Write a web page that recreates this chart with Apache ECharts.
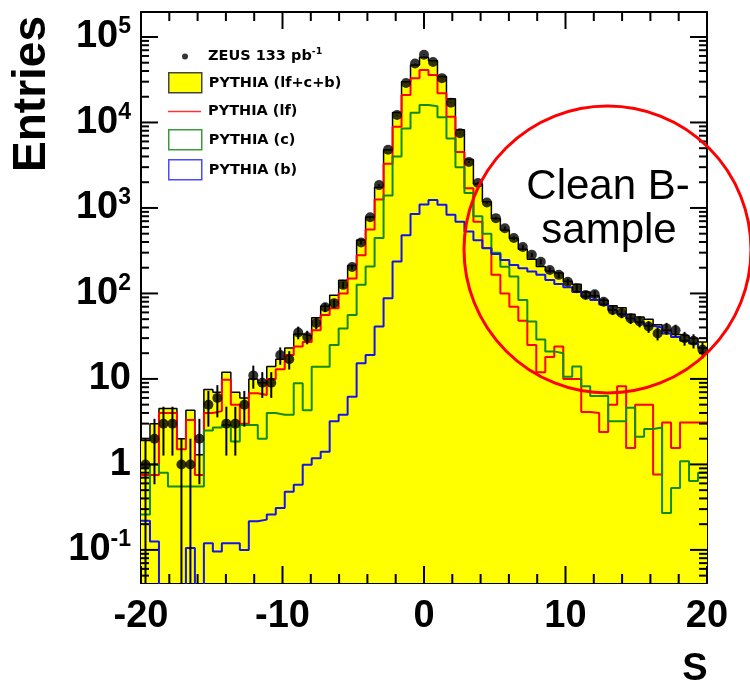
<!DOCTYPE html>
<html>
<head>
<meta charset="utf-8">
<script src="https://cdn.jsdelivr.net/npm/echarts@6/dist/echarts.min.js"></script>
<style>
  html, body { margin: 0; padding: 0; background: #ffffff; }
  #chart { width: 750px; height: 686px; }
</style>
</head>
<body>
<div id="chart"></div>
<script>
// Histogram binning of the significance S
const X_MIN = -20;
const X_MAX = 20;
const N_BINS = 63;
const Y_MIN = 0.041;
const Y_MAX = 1.96e5;

// Frame tick positions
const X_MAJOR_TICKS = [-20, -10, 0, 10, 20];
const X_MINOR_TICKS = [-18, -16, -14, -12, -8, -6, -4, -2, 2, 4, 6, 8, 12, 14, 16, 18];
const Y_DECADES = [0.01, 0.1, 1, 10, 100, 1000, 10000, 100000];
const Y_MINOR_STEPS = [2, 3, 4, 5, 6, 7, 8, 9];

// Data: entries per bin (63 bins, S from -20 to 20)
const ZEUS_DATA = [
  1, 2, 3, 3, 1, 1, 2, 5, 6, 3,
  3, 5, 11, 9, 9, 19, 17, 35, 31, 45,
  69, 77, 126, 204, 395, 780, 1850, 4800, 12200, 29000,
  49000, 62000, 51000, 33000, 17000, 7500, 3450, 1960, 1160, 760,
  580, 445, 350, 283, 235, 188, 165, 137, 115, 96,
  98, 80, 64, 59, 51, 47, 41, 34, 39, 37,
  30, 28, 22
];

// PYTHIA total (lf+c+b)
const MC_TOTAL = [
  1.9, 3.0, 4.5, 4.5, 2.0, 4.3, 1.3, 7.5, 7, 12,
  7, 6, 10, 9, 14, 17, 23, 33.5, 32, 52,
  71, 95, 143, 212, 421, 785, 1746, 4800, 13100, 30000,
  46900, 58100, 52700, 34600, 19000, 8200, 3700, 1910, 1180, 755,
  551, 443, 329, 252, 206, 183, 173, 139, 128, 104,
  94, 83, 72, 68, 57, 53, 50, 43, 37, 33,
  32, 30, 27
];

// PYTHIA light flavour
const MC_LF = [
  0.75, 0.75, 4.0, 4.0, 1.5, 3.3, 0.75, 4.0, 4.2, 9.8,
  5.0, 3.0, 6.8, 6.5, 10, 13, 19, 24, 27, 37,
  56, 67, 100, 150, 280, 560, 1260, 3300, 8900, 21000,
  33000, 41000, 36000, 22000, 11700, 4500, 1700, 690, 340, 165,
  100, 70, 48, 25, 12, 18, 24, 10, 10, 4.1,
  4.0, 2.4, 5.0, 8.2, 1.56, 5.0, 5.0, 0.76, 3.1, 1.56,
  3.1, 3.1, 3.1
];

// PYTHIA charm
const MC_C = [
  0.26, 1.0, 0.8, 0.55, 0.55, 0.55, 0.55, 2.5, 2.7, 2.9,
  1.85, 2.9, 2.9, 2.0, 4.0, 3.8, 3.8, 8.9, 4.3, 13.9,
  13.9, 25, 39, 56, 126, 206, 445, 1400, 4000, 8500,
  13000, 16000, 15500, 11500, 6500, 3000, 1500, 800, 500, 300,
  205, 158, 84, 47, 29, 21, 20, 10.6, 14, 8.2,
  6.3, 6.3, 3.2, 3.2, 4.6, 2.1, 2.6, 2.7, 0.27, 0.53,
  1.09, 0.64, 0.8
];

// PYTHIA beauty (0 = empty bin)
const MC_B = [
  0.22, 0.125, 0, 0, 0, 0.105, 0, 0.12, 0.096, 0.12,
  0.12, 0.10, 0.216, 0.226, 0.26, 0.31, 0.48, 0.58, 0.99, 1.18,
  1.41, 3.2, 3.8, 6.2, 15.3, 19, 41, 88, 236, 480,
  850, 1100, 1240, 1090, 830, 690, 530, 420, 338, 290,
  246, 215, 197, 180, 165, 144, 129, 118, 104, 92,
  84, 74, 64, 57, 51, 46, 42, 40, 34, 31,
  28, 26, 23
];

const SERIES_NAMES = ['ZEUS 133 pb-1', 'PYTHIA (lf+c+b)', 'PYTHIA (lf)', 'PYTHIA (c)', 'PYTHIA (b)'];

const BIN_W = (X_MAX - X_MIN) / N_BINS;
const binEdge = i => X_MIN + i * BIN_W;
const binCenter = i => X_MIN + (i + 0.5) * BIN_W;

// Outline of a histogram: flat top across each bin; empty bins sink below the axis floor
function histOutline(vals) {
  const pts = [];
  vals.forEach((v, i) => {
    const y = v > 0 ? v : Y_MIN * 0.5;
    pts.push([binEdge(i), y], [binEdge(i + 1), y]);
  });
  return pts;
}

const FONT = 'Liberation Sans, Arial, Helvetica, sans-serif';
const LEGEND_FONT = 'DejaVu Sans, sans-serif';
const LEGEND_TEXT = { fontFamily: LEGEND_FONT, fontWeight: 'bold', fontSize: 14.5, color: '#000' };

function histSeries(name, vals, color, width, z, area) {
  const s = {
    type: 'line',
    name: name,
    data: histOutline(vals),
    showSymbol: false,
    symbol: 'none',
    lineStyle: { color: color, width: width },
    itemStyle: { color: color },
    clip: true,
    z: z,
    silent: true
  };
  if (area) {
    s.areaStyle = { color: area, opacity: 1, origin: 'start' };
  }
  return s;
}

const xAxisBase = {
  type: 'value',
  min: X_MIN,
  max: X_MAX,
  interval: 10,
  axisLine: { show: true, onZero: false, lineStyle: { color: '#000', width: 2 } },
  axisTick: { show: false },
  minorTick: { show: false },
  splitLine: { show: false },
  minorSplitLine: { show: false }
};

const yAxisBase = {
  type: 'log',
  logBase: 10,
  min: Y_MIN,
  max: Y_MAX,
  axisLine: { show: true, onZero: false, lineStyle: { color: '#000', width: 2 } },
  axisTick: { show: false },
  minorTick: { show: false },
  splitLine: { show: false },
  minorSplitLine: { show: false }
};

function decadeLabel(v) {
  const e = Math.log10(v);
  const r = Math.round(e);
  if (Math.abs(e - r) > 1e-6) return '';
  if (r === 0) return '{b|1}';
  if (r === 1) return '{b|10}';
  return '{b|10}{s|' + r + '}';
}

function legendBlock(top, left, w, h, items, extra) {
  return Object.assign({
    orient: 'vertical',
    left: left,
    top: top,
    padding: 0,
    selectedMode: false,
    itemWidth: w,
    itemHeight: h,
    itemGap: 8.5,
    symbolKeepAspect: false,
    data: items,
    textStyle: Object.assign({ padding: [0, 0, 0, 2] }, LEGEND_TEXT)
  }, extra || {});
}

const textGraphics = [
  {
    type: 'text',
    x: 32, y: 94,
    rotation: Math.PI / 2,
    style: {
      text: 'Entries',
      font: 'bold 46px ' + FONT,
      fill: '#000',
      align: 'center', verticalAlign: 'middle',
      textAlign: 'center', textVerticalAlign: 'middle'
    }
  },
  {
    type: 'text',
    x: 695, y: 670,
    style: {
      text: 'S',
      font: 'bold 38px ' + FONT,
      fill: '#000',
      align: 'center', verticalAlign: 'middle',
      textAlign: 'center', textVerticalAlign: 'middle'
    }
  },
  {
    type: 'circle',
    z: 100,
    shape: { cx: 607.5, cy: 249.5, r: 143.5 },
    style: { fill: 'none', stroke: '#ff0000', lineWidth: 3 }
  },
  {
    type: 'text',
    x: 608, y: 187,
    z: 101,
    style: {
      text: 'Clean B-',
      font: '42px ' + FONT,
      fill: '#000',
      align: 'center', verticalAlign: 'middle',
      textAlign: 'center', textVerticalAlign: 'middle'
    }
  },
  {
    type: 'text',
    x: 609, y: 231,
    z: 101,
    style: {
      text: 'sample',
      font: '42px ' + FONT,
      fill: '#000',
      align: 'center', verticalAlign: 'middle',
      textAlign: 'center', textVerticalAlign: 'middle'
    }
  }
];

const option = {
  animation: false,
  backgroundColor: '#ffffff',
  textStyle: { fontFamily: FONT },
  grid: { left: 141, top: 12, width: 566, height: 571, containLabel: false, outerBoundsMode: 'none' },
  xAxis: [
    Object.assign({}, xAxisBase, {
      position: 'bottom',
      axisLabel: { show: true, color: '#000', fontFamily: FONT, fontWeight: 'bold', fontSize: 38, margin: 15 }
    }),
    Object.assign({}, xAxisBase, { position: 'top', axisLabel: { show: false } })
  ],
  yAxis: [
    Object.assign({}, yAxisBase, {
      position: 'left',
      axisLabel: {
        show: true,
        margin: 10,
        formatter: decadeLabel,
        rich: {
          b: { fontFamily: FONT, fontWeight: 'bold', fontSize: 38, color: '#000' },
          s: { fontFamily: FONT, fontWeight: 'bold', fontSize: 23, color: '#000', padding: [0, 0, 20, 0] }
        }
      }
    }),
    Object.assign({}, yAxisBase, { position: 'right', axisLabel: { show: false } })
  ],
  legend: [
    legendBlock(47, 182, 6, 6, [{ name: SERIES_NAMES[0], icon: 'circle' }], {
      formatter: () => '{t|ZEUS 133 pb}{s|-1}',
      textStyle: {
        padding: [0, 0, 0, 15],
        rich: {
          t: LEGEND_TEXT,
          s: { fontFamily: LEGEND_FONT, fontWeight: 'bold', fontSize: 9.5, color: '#000', padding: [0, 0, 9, 0] }
        }
      }
    }),
    legendBlock(72, 168, 33, 20, [
      { name: SERIES_NAMES[1], icon: 'rect', itemStyle: { color: '#ffff00', borderColor: '#444', borderWidth: 1.5 } }
    ]),
    legendBlock(104, 168, 33, 1.5, [
      { name: SERIES_NAMES[2], icon: 'rect', itemStyle: { color: '#ff3030', borderWidth: 0 } }
    ]),
    legendBlock(129, 168, 33, 20, [
      { name: SERIES_NAMES[3], icon: 'rect', itemStyle: { color: 'rgba(255,255,255,0)', borderColor: '#3c9a3c', borderWidth: 1.5 } },
      { name: SERIES_NAMES[4], icon: 'rect', itemStyle: { color: 'rgba(255,255,255,0)', borderColor: '#4b4bff', borderWidth: 1.5 } }
    ])
  ],
  series: [
    histSeries(SERIES_NAMES[1], MC_TOTAL, '#000000', 1.5, 1, '#ffff00'),
    histSeries(SERIES_NAMES[2], MC_LF, '#ff0000', 2, 2),
    histSeries(SERIES_NAMES[3], MC_C, '#138a13', 2, 3),
    histSeries(SERIES_NAMES[4], MC_B, '#1414ee', 2, 4),
    {
      type: 'custom',
      name: 'ZEUS errors',
      silent: true,
      z: 5,
      data: ZEUS_DATA.map((n, i) => [binCenter(i), n]),
      renderItem: function (params, api) {
        const x = api.value(0);
        const n = api.value(1);
        const s = Math.sqrt(n);
        const lo = Math.max(n - s, Y_MIN);
        const hi = n + s;
        const p0 = api.coord([x, lo]);
        const p1 = api.coord([x, hi]);
        return {
          type: 'line',
          shape: { x1: p0[0], y1: p0[1], x2: p1[0], y2: p1[1] },
          style: { stroke: '#000', lineWidth: 2 }
        };
      }
    },
    {
      type: 'scatter',
      name: SERIES_NAMES[0],
      data: ZEUS_DATA.map((n, i) => [binCenter(i), n]),
      symbol: 'circle',
      symbolSize: 10,
      itemStyle: { color: '#000000' },
      z: 6,
      silent: true
    }
  ],
  graphic: textGraphics
};

const chart = echarts.init(document.getElementById('chart'), null, { renderer: 'canvas' });
chart.setOption(option);

// Inward tick marks on all four frame sides, placed through the axis scales
function tickLine(x1, y1, x2, y2) {
  return {
    type: 'line',
    silent: true,
    z: 50,
    shape: { x1: x1, y1: y1, x2: x2, y2: y2 },
    style: { stroke: '#000', lineWidth: 2 }
  };
}
const toPx = v => chart.convertToPixel({ gridIndex: 0 }, v);
const tickEls = [];
function addXTick(v, len) {
  const b = toPx([v, Y_MIN]);
  const t = toPx([v, Y_MAX]);
  tickEls.push(tickLine(b[0], b[1], b[0], b[1] - len));
  tickEls.push(tickLine(t[0], t[1], t[0], t[1] + len));
}
function addYTick(v, len) {
  const l = toPx([X_MIN, v]);
  const r = toPx([X_MAX, v]);
  tickEls.push(tickLine(l[0], l[1], l[0] + len, l[1]));
  tickEls.push(tickLine(r[0], r[1], r[0] - len, r[1]));
}
X_MAJOR_TICKS.forEach(v => addXTick(v, 17));
X_MINOR_TICKS.forEach(v => addXTick(v, 9));
Y_DECADES.forEach(d => {
  if (d >= Y_MIN && d <= Y_MAX) addYTick(d, 17);
  Y_MINOR_STEPS.forEach(m => {
    const v = +(m * d).toPrecision(3);
    if (v > Y_MIN && v < Y_MAX) addYTick(v, 8);
  });
});
chart.setOption({ graphic: textGraphics.concat(tickEls) });
</script>
</body>
</html>
